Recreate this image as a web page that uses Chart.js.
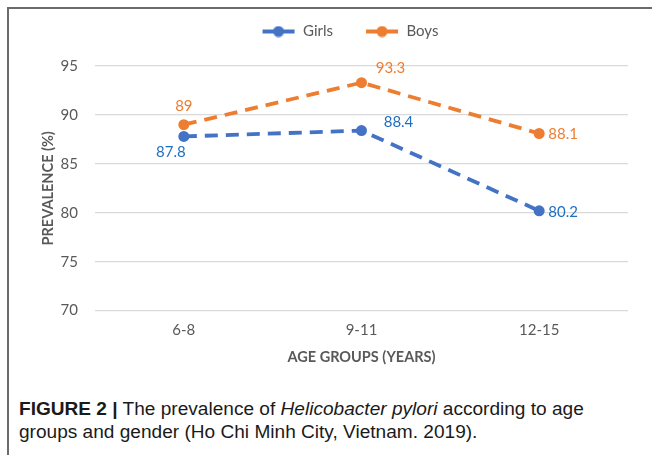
<!DOCTYPE html>
<html>
<head>
<meta charset="utf-8">
<script src="https://cdn.jsdelivr.net/npm/chart.js@4.4.1/dist/chart.umd.min.js"></script>
<style>
  html, body { margin: 0; padding: 0; background: #fff; }
  body { width: 652px; height: 455px; position: relative; overflow: hidden; }
  #frame { position: absolute; left: 7px; top: 7px; width: 660px; height: 460px;
           border-top: 2px solid #6b6b6b; border-left: 2px solid #6b6b6b; }
  #wrap { position: absolute; left: 0; top: 0; width: 652px; height: 372px; }
  #caption { position: absolute; left: 19px; top: 398px; width: 540px;
             font-family: "Liberation Sans", Arial, sans-serif; font-size: 17.5px;
             line-height: 23px; color: #1a1a1a;
             transform: scaleX(1.09); transform-origin: 0 0; }
  #caption b { font-weight: bold; }
</style>
</head>
<body>
<div id="frame"></div>
<div id="wrap"><canvas id="chart"></canvas></div>
<div id="caption"><b>FIGURE 2 |</b> The prevalence of <i>Helicobacter pylori</i> according to age groups and gender (Ho Chi Minh City, Vietnam. 2019).</div>
<script>
// Données
const ageGroups = ['6-8', '9-11', '12-15'];
const girls = [87.8, 88.4, 80.2];
const boys = [89, 93.3, 88.1];

const blue = '#4472C4';
const orange = '#ED7D31';
const blueText = '#1F6FC0';
const grayText = '#595959';
const fontFam = 'Lato, "Open Sans", sans-serif';

// décalages des étiquettes (px) par point
const girlsLabelShift = [[-13, 16], [37, -8], [24, 1]];
const boysLabelShift = [[0, -19], [29, -14], [24, 1]];

// petit symbole de légende : trait + rond
function legendIcon(color) {
  const c = document.createElement('canvas');
  c.width = 34; c.height = 12;
  const g = c.getContext('2d');
  g.strokeStyle = color;
  g.lineWidth = 4;
  g.beginPath();
  g.moveTo(1, 6); g.lineTo(33, 6);
  g.stroke();
  g.fillStyle = color;
  g.beginPath();
  g.arc(17, 6, 5.5, 0, Math.PI * 2);
  g.fill();
  return c;
}

const valueLabels = {
  id: 'valueLabels',
  afterDatasetsDraw(chart) {
    const ctx = chart.ctx;
    const shifts = [girlsLabelShift, boysLabelShift];
    const colors = [blueText, orange];
    ctx.save();
    ctx.font = '15px ' + fontFam;
    ctx.textAlign = 'center';
    ctx.textBaseline = 'middle';
    chart.data.datasets.forEach((ds, i) => {
      const meta = chart.getDatasetMeta(i);
      ctx.fillStyle = colors[i];
      meta.data.forEach((pt, j) => {
        const s = shifts[i][j];
        ctx.fillText(String(ds.data[j]), pt.x + s[0], pt.y + s[1]);
      });
    });
    ctx.restore();
  }
};

// espace sous la légende + léger décalage
const legendGap = {
  id: 'legendGap',
  beforeInit(chart) {
    const fit = chart.legend.fit;
    chart.legend.fit = function () {
      fit.bind(chart.legend)();
      this.height += 7;
    };
  },
  afterLayout(chart) {
    chart.legend.left += 16;
    chart.legend.right += 16;
    chart.legend.top -= 10;
  }
};

new Chart(document.getElementById('chart').getContext('2d'), {
  type: 'line',
  data: {
    labels: ageGroups,
    datasets: [
      {
        label: 'Girls',
        data: girls,
        borderColor: blue,
        backgroundColor: blue,
        borderWidth: 3.8,
        borderDash: [13, 8],
        pointRadius: 5.5,
        pointBackgroundColor: blue,
        pointBorderWidth: 0,
        tension: 0
      },
      {
        label: 'Boys',
        data: boys,
        borderColor: orange,
        backgroundColor: orange,
        borderWidth: 3.8,
        borderDash: [13, 8],
        pointRadius: 5.5,
        pointBackgroundColor: orange,
        pointBorderWidth: 0,
        tension: 0
      }
    ]
  },
  options: {
    responsive: true,
    maintainAspectRatio: false,
    animation: false,
    layout: { padding: { left: 40, right: 24, top: 2, bottom: 6 } },
    plugins: {
      tooltip: { enabled: false },
      legend: {
        position: 'top',
        labels: {
          usePointStyle: true,
          pointStyleWidth: 34,
          padding: 32,
          color: grayText,
          font: { family: fontFam, size: 15 },
          generateLabels(chart) {
            return chart.data.datasets.map((ds, i) => ({
              text: ds.label,
              fillStyle: ds.borderColor,
              strokeStyle: ds.borderColor,
              fontColor: grayText,
              lineWidth: 0,
              pointStyle: legendIcon(ds.borderColor),
              datasetIndex: i,
              hidden: false
            }));
          }
        }
      }
    },
    scales: {
      x: {
        offset: true,
        grid: { display: false },
        border: { display: false },
        ticks: { color: grayText, padding: 3, font: { family: fontFam, size: 15 } },
        title: {
          display: true,
          text: 'AGE GROUPS (YEARS)',
          color: grayText,
          padding: { top: 6, bottom: 0 },
          font: { family: fontFam, size: 14.5, weight: 'bold' }
        }
      },
      y: {
        min: 70,
        max: 95,
        afterFit(scale) { scale.width = 55; },
        ticks: { stepSize: 5, color: grayText, padding: 17, font: { family: fontFam, size: 15 } },
        grid: { color: '#d9d9d9', lineWidth: 1.3, drawTicks: false },
        border: { display: false },
        title: {
          display: true,
          text: 'PREVALENCE (%)',
          color: grayText,
          padding: { top: 0, bottom: 4 },
          font: { family: fontFam, size: 14.5, weight: 'bold' }
        }
      }
    }
  },
  plugins: [valueLabels, legendGap]
});
</script>
</body>
</html>
